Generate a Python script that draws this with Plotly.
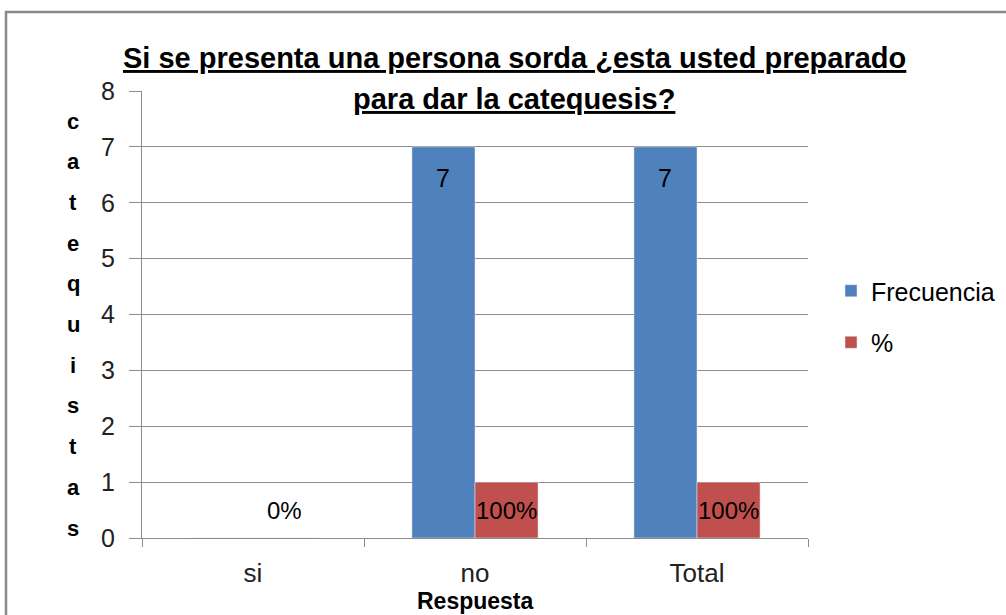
import plotly.graph_objects as go

categorias = ["si", "no", "Total"]
frecuencia = [0, 7, 7]
porcentaje = [0, 1, 1]
etiquetas_pct = ["0%", "100%", "100%"]
etiquetas_frec = ["", "7", "7"]
eje_y_letras = list("catequistas")

FONT = "Liberation Sans"
BLUE = "#4F81BD"
RED = "#C0504D"
GRID = "#8C8C8C"

W, H = 1006, 615
L, R, T, B = 142, 198, 91, 77
BARGAP = 0.432
plot_w = W - L - R
ph = H - T - B


def px_x(p):
    return (p - L) / plot_w


def px_y(p):
    return (H - B - p) / ph


fig = go.Figure()
fig.add_trace(go.Bar(x=categorias, y=frecuencia, name="Frecuencia",
                     marker_color=BLUE, legendgroup="a"))
fig.add_trace(go.Bar(x=categorias, y=porcentaje, name="%",
                     marker_color=RED, legendgroup="b"))

bar_px = plot_w / len(categorias) * (1 - BARGAP) / 2
annotations = []
lab_font = dict(family=FONT, size=25, color="black")
for c, v, t in zip(categorias, frecuencia, etiquetas_frec):
    if t:
        annotations.append(dict(x=c, y=v, xref="x", yref="y", text=t, showarrow=False,
                                xshift=-bar_px / 2, yshift=-15, yanchor="top",
                                font=lab_font))
for c, v, t in zip(categorias, porcentaje, etiquetas_pct):
    annotations.append(dict(x=c, y=v / 2, xref="x", yref="y", text=t, showarrow=False,
                            xshift=bar_px / 2, yshift=(28 if v == 0 else 0),
                            yanchor="middle", font=dict(family=FONT, size=24, color="black")))

title_lines = ["<u>Si se presenta una persona sorda ¿esta usted preparado</u>",
               "<u>para dar la catequesis?</u>"]
for i, line in enumerate(title_lines):
    annotations.append(dict(
        x=px_x(514), y=px_y(58 + i * 41),
        xref="paper", yref="paper", text="<b>" + line + "</b>", showarrow=False,
        xanchor="center", yanchor="middle",
        font=dict(family=FONT, size=29, color="black")))

n = len(eje_y_letras)
for i, ch in enumerate(eje_y_letras):
    ypx = 121 + i * (528 - 121) / (n - 1)
    annotations.append(dict(
        x=px_x(73), y=px_y(ypx),
        xref="paper", yref="paper", text="<b>" + ch + "</b>", showarrow=False,
        xanchor="center", yanchor="middle",
        font=dict(family=FONT, size=22, color="black")))

annotations.append(dict(
    x=px_x(475), y=px_y(601),
    xref="paper", yref="paper", text="<b>Respuesta</b>", showarrow=False,
    xanchor="center", yanchor="middle",
    font=dict(family=FONT, size=23, color="black")))

shapes = [dict(type="rect", xref="paper", yref="paper",
               x0=px_x(6), x1=px_x(1030),
               y0=px_y(640), y1=px_y(12),
               line=dict(color="#8A8A8A", width=2.5), fillcolor="rgba(0,0,0,0)", layer="below")]

fig.update_layout(
    width=W, height=H,
    margin=dict(l=L, r=R, t=T, b=B, autoexpand=False),
    paper_bgcolor="white", plot_bgcolor="white",
    barmode="group", bargap=BARGAP, bargroupgap=0,
    showlegend=True,
    legend=dict(x=px_x(831), y=px_y(268), xanchor="left", yanchor="top",
                font=dict(family=FONT, size=25, color="black"),
                traceorder="grouped", tracegroupgap=16, itemwidth=30,
                bgcolor="rgba(0,0,0,0)"),
    annotations=annotations,
    shapes=shapes,
    xaxis=dict(type="category", showline=True, linecolor=GRID, linewidth=1,
               ticks="outside", tickson="boundaries", ticklen=8, tickcolor=GRID,
               ticklabelstandoff=12,
               tickfont=dict(family=FONT, size=26, color="#222222"),
               showgrid=False, fixedrange=True),
    yaxis=dict(range=[0, 8], dtick=1, showline=True, linecolor=GRID, linewidth=1,
               ticks="outside", ticklen=12, tickcolor=GRID,
               ticklabelstandoff=9,
               showgrid=True, gridcolor=GRID, gridwidth=1,
               zeroline=False,
               tickfont=dict(family=FONT, size=25, color="#222222"),
               fixedrange=True),
)

fig.write_html("out.html", config={"displayModeBar": False},
               post_script="document.body.style.margin='0px';")
